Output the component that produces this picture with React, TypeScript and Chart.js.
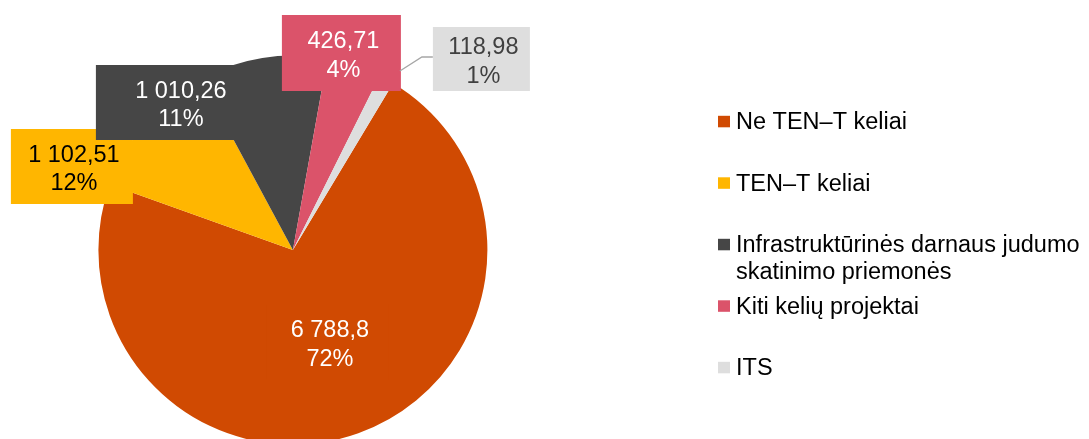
import React, { useEffect, useRef } from "react";
import { Chart, registerables } from "chart.js";

Chart.register(...registerables);

// ---- data ----
const categories = [
  "Ne TEN–T keliai",
  "TEN–T keliai",
  "Infrastruktūrinės darnaus judumo skatinimo priemonės",
  "Kiti kelių projektai",
  "ITS",
];
const values = [6788.8, 1102.51, 1010.26, 426.71, 118.98];

// ---- styles ----
const sliceColors = ["#D04A02", "#FFB600", "#464646", "#DB536A", "#DEDEDE"];
const labelTextColors = ["#FFFFFF", "#000000", "#FFFFFF", "#FFFFFF", "#404040"];
const FONT_FAMILY = '"Liberation Sans", Arial, sans-serif';
const FONT_SIZE = 23.5;

// label box layout, relative to pie centre, in pixels at reference radius
const REF_R = 194.5;
const labelBoxes = [
  { cx: 35, cy: 92, w: 122, h: 75 },
  { cx: -221, cy: -83.5, w: 122, h: 75 },
  { cx: -114, cy: -147.5, w: 166, h: 75 },
  { cx: 48.5, cy: -197, w: 119, h: 76 },
  { cx: 188.5, cy: -191, w: 97, h: 64 },
];
const leaderLines: Record<number, Array<[number, number]>> = {
  4: [
    [140, -193],
    [129, -193],
    [107, -179],
  ],
};

function formatValue(v: number): string {
  const [intPart, dec] = String(v).split(".");
  const grouped = intPart.replace(/\B(?=(\d{3})+(?!\d))/g, " ");
  return dec ? grouped + "," + dec : grouped;
}

// percentages that add up to 100 (largest remainder), as the spreadsheet shows them
function percentages(data: number[]): number[] {
  const total = data.reduce((a, b) => a + b, 0);
  const raw = data.map((v) => (v / total) * 100);
  const floors = raw.map((r) => Math.floor(r));
  let left = 100 - floors.reduce((a, b) => a + b, 0);
  const order = raw
    .map((r, i) => ({ i, rem: r - Math.floor(r) }))
    .sort((a, b) => b.rem - a.rem);
  for (let k = 0; k < order.length && left > 0; k++, left--) floors[order[k].i] += 1;
  return floors;
}

const labelPlugin = {
  id: "boxLabels",
  afterDatasetsDraw(chart: any) {
    const ctx = chart.ctx as CanvasRenderingContext2D;
    const meta = chart.getDatasetMeta(0);
    const data = chart.data.datasets[0].data as number[];
    const pcts = percentages(data);
    ctx.save();
    ctx.font = `${FONT_SIZE}px ${FONT_FAMILY}`;
    ctx.textAlign = "center";
    ctx.textBaseline = "alphabetic";
    meta.data.forEach((arc: any, i: number) => {
      const { x, y, outerRadius } = arc.getProps(["x", "y", "outerRadius"], true);
      const s = outerRadius / REF_R;
      const b = labelBoxes[i];
      const bx = x + b.cx * s;
      const by = y + b.cy * s;
      const lines = leaderLines[i];
      if (lines) {
        ctx.strokeStyle = "#A6A6A6";
        ctx.lineWidth = 1.3;
        ctx.beginPath();
        lines.forEach(([px, py], k) => {
          if (k === 0) ctx.moveTo(x + px * s, y + py * s);
          else ctx.lineTo(x + px * s, y + py * s);
        });
        ctx.stroke();
      }
      ctx.fillStyle = sliceColors[i];
      ctx.fillRect(bx - (b.w * s) / 2, by - (b.h * s) / 2, b.w * s, b.h * s);
      ctx.fillStyle = labelTextColors[i];
      ctx.fillText(formatValue(data[i]), bx + 2, by - 5);
      ctx.fillText(pcts[i] + "%", bx + 2, by + 23.5);
    });
    ctx.restore();
  },
};

const legendPlugin = {
  id: "sideLegend",
  afterDraw(chart: any) {
    const ctx = chart.ctx as CanvasRenderingContext2D;
    const labels = chart.data.labels as string[];
    const colors = chart.data.datasets[0].backgroundColor as string[];
    const markerX = 718;
    const textX = 736;
    const firstBaseline = 129.3;
    const step = 61.5;
    const lineH = 27;
    const maxW = chart.width - textX - 2;
    ctx.save();
    ctx.font = `${FONT_SIZE}px ${FONT_FAMILY}`;
    ctx.textAlign = "left";
    ctx.textBaseline = "alphabetic";
    labels.forEach((label, i) => {
      const base = firstBaseline + i * step;
      ctx.fillStyle = colors[i];
      ctx.fillRect(markerX, base - 13.5, 12, 11.5);
      const words = label.split(" ");
      const wrapped: string[] = [];
      let cur = "";
      words.forEach((w) => {
        const test = cur ? cur + " " + w : w;
        if (ctx.measureText(test).width > maxW && cur) {
          wrapped.push(cur);
          cur = w;
        } else cur = test;
      });
      if (cur) wrapped.push(cur);
      ctx.fillStyle = "#000000";
      wrapped.forEach((ln, k) => ctx.fillText(ln, textX, base + k * lineH));
    });
    ctx.restore();
  },
};

export default function App() {
  const ref = useRef<HTMLCanvasElement | null>(null);
  useEffect(() => {
    document.body.style.margin = "0";
    const canvas = ref.current;
    if (!canvas) return;
    const chart = new Chart(canvas, {
      type: "pie",
      data: {
        labels: categories,
        datasets: [
          {
            data: values,
            backgroundColor: sliceColors,
            borderWidth: 0,
            hoverBorderWidth: 0,
            hoverOffset: 0,
          },
        ],
      },
      options: {
        responsive: false,
        maintainAspectRatio: false,
        animation: false,
        rotation: 31,
        layout: { padding: { left: 98.3, right: 601.5, top: 55.5, bottom: 0.5 } },
        plugins: {
          legend: { display: false },
          tooltip: { enabled: false },
        },
        events: [],
      },
      plugins: [labelPlugin, legendPlugin],
    });
    return () => chart.destroy();
  }, []);
  return (
    <div style={{ width: 1089, height: 439, overflow: "hidden", background: "#FFFFFF" }}>
      <canvas ref={ref} width={1089} height={445} style={{ display: "block" }} />
    </div>
  );
}
